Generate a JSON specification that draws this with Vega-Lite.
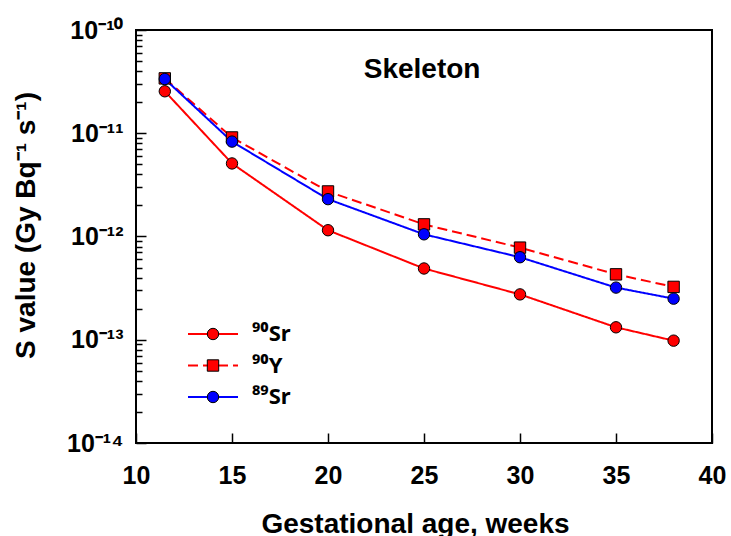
{
  "$schema": "https://vega.github.io/schema/vega-lite/v6.json",
  "width": 576,
  "height": 413,
  "autosize": {"type": "none"},
  "padding": {"left": 136, "top": 30, "right": 19, "bottom": 93},
  "background": "white",
  "config": {
    "view": {"stroke": "#000000", "strokeWidth": 2},
    "font": "Liberation Sans",
    "axis": {"domain": false, "grid": false, "tickColor": "#000000", "tickWidth": 1.5,
             "labelFont": "Liberation Sans", "labelFontWeight": "bold", "labelColor": "#000000",
             "titleFont": "Liberation Sans", "titleFontWeight": "bold", "titleColor": "#000000"}
  },
  "data": {"values": [
    {"age": 11.5, "S": 2.55e-11, "series": "⁹⁰Sr"},
    {"age": 15, "S": 5.1e-12, "series": "⁹⁰Sr"},
    {"age": 20, "S": 1.15e-12, "series": "⁹⁰Sr"},
    {"age": 25, "S": 4.9e-13, "series": "⁹⁰Sr"},
    {"age": 30, "S": 2.75e-13, "series": "⁹⁰Sr"},
    {"age": 35, "S": 1.32e-13, "series": "⁹⁰Sr"},
    {"age": 38, "S": 9.8e-14, "series": "⁹⁰Sr"},
    {"age": 11.5, "S": 3.4e-11, "series": "⁹⁰Y"},
    {"age": 15, "S": 9.1e-12, "series": "⁹⁰Y"},
    {"age": 20, "S": 2.73e-12, "series": "⁹⁰Y"},
    {"age": 25, "S": 1.31e-12, "series": "⁹⁰Y"},
    {"age": 30, "S": 7.8e-13, "series": "⁹⁰Y"},
    {"age": 35, "S": 4.3e-13, "series": "⁹⁰Y"},
    {"age": 38, "S": 3.25e-13, "series": "⁹⁰Y"},
    {"age": 11.5, "S": 3.35e-11, "series": "⁸⁹Sr"},
    {"age": 15, "S": 8.3e-12, "series": "⁸⁹Sr"},
    {"age": 20, "S": 2.3e-12, "series": "⁸⁹Sr"},
    {"age": 25, "S": 1.05e-12, "series": "⁸⁹Sr"},
    {"age": 30, "S": 6.3e-13, "series": "⁸⁹Sr"},
    {"age": 35, "S": 3.2e-13, "series": "⁸⁹Sr"},
    {"age": 38, "S": 2.5e-13, "series": "⁸⁹Sr"}
  ]},
  "layer": [
    {
      "mark": {"type": "line", "strokeWidth": 2},
      "encoding": {
        "x": {"field": "age", "type": "quantitative",
              "scale": {"domain": [10, 40], "nice": false, "zero": false},
              "axis": {"values": [10, 15, 20, 25, 30, 35, 40], "tickSize": -10, "labelPadding": 30,
                       "labelFontSize": 25, "labelFlush": false,
                       "title": "Gestational age, weeks", "titleFontSize": 28,
                       "titleX": 279, "titleY": 89, "titleBaseline": "alphabetic"}},
        "y": {"field": "S", "type": "quantitative",
              "scale": {"type": "log", "domain": [1e-14, 1e-10], "nice": false},
              "axis": {"orient": "left", "values": [1e-14, 1e-13, 1e-12, 1e-11, 1e-10], "tickSize": -10, "labelPadding": 23,
                       "labelFontSize": 25, "labelFlush": false,
                       "labelExpr": "'10⁻¹' + ['⁴','³','²','¹','⁰'][round(log(datum.value)/LN10)+14]",
                       "title": "S value (Gy Bq⁻¹ s⁻¹)", "titleFontSize": 28,
                       "titleX": -110, "titleY": 195, "titleBaseline": "middle", "titleAlign": "center", "titleAngle": -90}},
        "color": {"field": "series", "type": "nominal",
                  "scale": {"domain": ["⁹⁰Sr", "⁹⁰Y", "⁸⁹Sr"], "range": ["#ff0000", "#ff0000", "#0000ff"]},
                  "legend": {"orient": "none", "legendX": 63.5, "legendY": 290.5, "title": null, "padding": 0,
                             "symbolType": "M-2,0H2", "symbolSize": 625, "symbolStrokeWidth": 2,
                             "labelFont": "Noto Sans", "labelFontWeight": "bold", "labelFontSize": 22,
                             "labelColor": "#000000", "labelOffset": 25.5, "rowPadding": 6.5}},
        "strokeDash": {"field": "series", "type": "nominal",
                       "scale": {"domain": ["⁹⁰Sr", "⁹⁰Y", "⁸⁹Sr"], "range": [[1, 0], [10, 5], [1, 0]]},
                       "legend": {"orient": "none", "legendX": 63.5, "legendY": 290.5, "title": null}}
      }
    },
    {
      "mark": {"type": "line", "strokeWidth": 0, "opacity": 0},
      "encoding": {
        "x": {"field": "age", "type": "quantitative"},
        "y": {"field": "S", "type": "quantitative",
              "axis": {"orient": "left", "values": [2e-14, 3e-14, 4e-14, 5e-14, 6e-14, 7e-14, 8e-14, 9e-14,
                                  2e-13, 3e-13, 4e-13, 5e-13, 6e-13, 7e-13, 8e-13, 9e-13,
                                  2e-12, 3e-12, 4e-12, 5e-12, 6e-12, 7e-12, 8e-12, 9e-12,
                                  2e-11, 3e-11, 4e-11, 5e-11, 6e-11, 7e-11, 8e-11, 9e-11],
                       "tickSize": -6, "labels": false, "title": null}}
      }
    },
    {
      "transform": [{"calculate": "datum.series + ' '", "as": "isotope"}],
      "mark": {"type": "point", "filled": true, "stroke": "#000000", "strokeWidth": 1, "opacity": 1, "size": 130},
      "encoding": {
        "x": {"field": "age", "type": "quantitative"},
        "y": {"field": "S", "type": "quantitative", "axis": null},
        "fill": {"field": "isotope", "type": "nominal",
                 "scale": {"domain": ["⁹⁰Sr ", "⁹⁰Y ", "⁸⁹Sr "], "range": ["#ff0000", "#ff0000", "#0000ff"]},
                 "legend": {"orient": "none", "legendX": 70.5, "legendY": 297.5, "title": null, "padding": 0,
                            "symbolSize": 130, "symbolStrokeColor": "#000000", "symbolStrokeWidth": 1,
                            "symbolOpacity": 1, "labelFontSize": 1, "labelOpacity": 0, "rowPadding": 14.5}},
        "shape": {"field": "isotope", "type": "nominal",
                  "scale": {"domain": ["⁹⁰Sr ", "⁹⁰Y ", "⁸⁹Sr "], "range": ["circle", "square", "circle"]},
                  "legend": {"orient": "none", "legendX": 70.5, "legendY": 297.5, "title": null}}
      }
    },
    {
      "data": {"values": [{"label": "Skeleton"}]},
      "mark": {"type": "text", "font": "Liberation Sans", "fontWeight": "bold", "fontSize": 28, "color": "#000000", "align": "center", "baseline": "middle"},
      "encoding": {
        "text": {"field": "label", "type": "nominal"},
        "x": {"datum": 24.9},
        "y": {"datum": 4.1e-11, "axis": null}
      }
    }
  ],
  "resolve": {"axis": {"y": "independent"}}
}
